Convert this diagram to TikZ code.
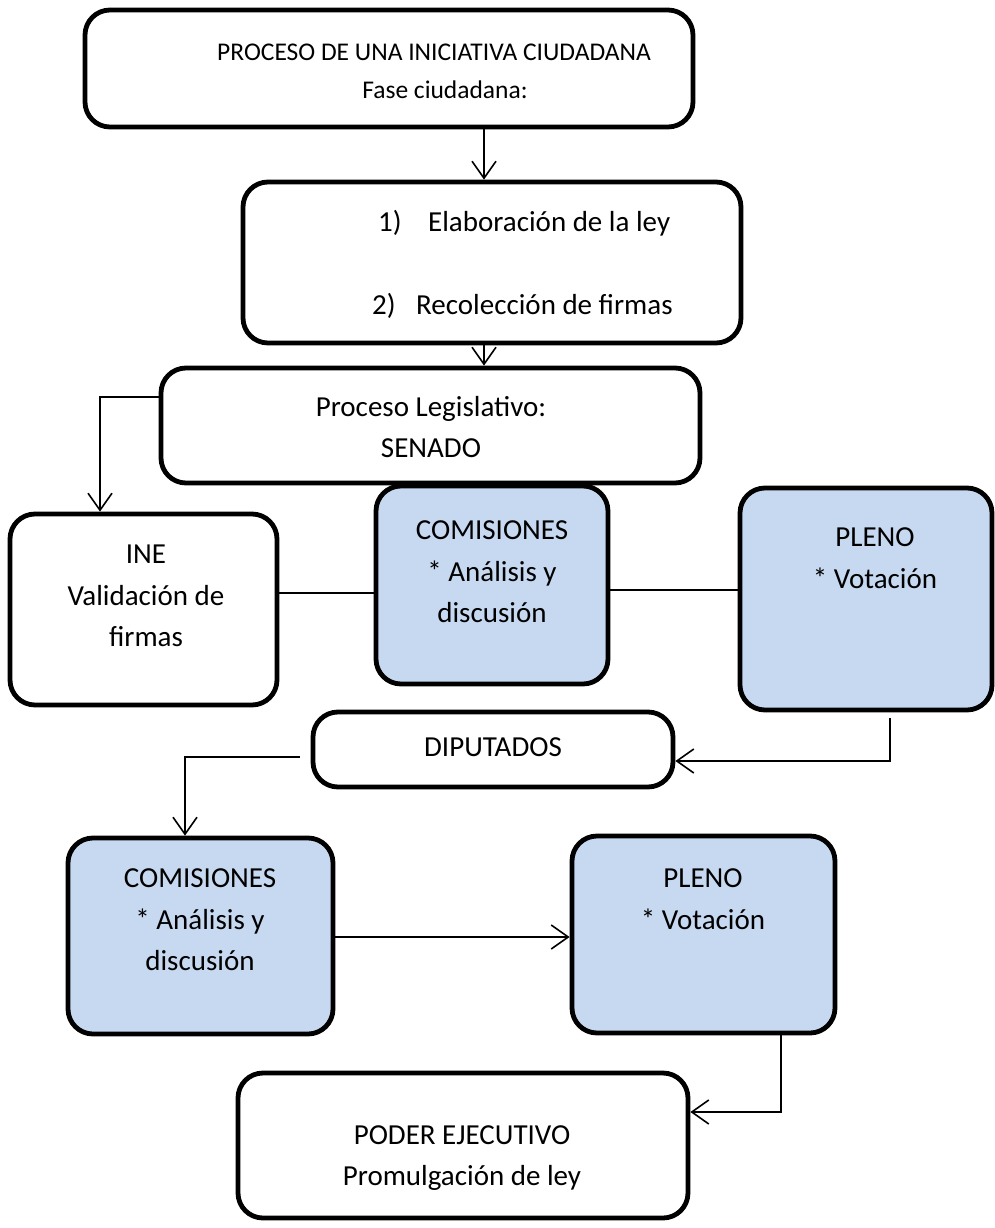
\documentclass[tikz,border=0pt]{standalone}
\usepackage{fontspec}
\setmainfont{Carlito}
\usetikzlibrary{arrows.meta}
\definecolor{boxblue}{HTML}{C6D9F1}
\begin{document}
\begin{tikzpicture}[x=1pt,y=-1pt,
  box/.style={draw=black, line width=4.8pt, rounded corners=25pt, fill=white, inner sep=0pt},
  bluebox/.style={box, fill=boxblue},
  txt/.style={font=\fontsize{29}{41.5}\selectfont, align=center, inner sep=0pt},
  toptxt/.style={font=\fontsize{25.5}{38}\selectfont, align=center, inner sep=0pt},
  conn/.style={line width=1.6pt},
  arr/.style={conn, -{Straight Barb[length=17pt,width=24pt,line width=1.6pt]}}]
\useasboundingbox (0,0) rectangle (994,1228);
% boxes
\node[box, minimum width=608pt, minimum height=117pt] (top) at (389,68.5) {};
\node[box, minimum width=498pt, minimum height=161pt] (fase) at (492,262.5) {};
\node[box, minimum width=539pt, minimum height=115pt] (senado) at (430.5,425.5) {};
\node[box, minimum width=267pt, minimum height=191pt] (ine) at (143.5,609.5) {};
\node[bluebox, minimum width=232pt, minimum height=198pt] (comA) at (492,585) {};
\node[bluebox, minimum width=252pt, minimum height=222pt] (plenoA) at (866,599) {};
\node[box, minimum width=360pt, minimum height=75pt] (dip) at (493,749.5) {};
\node[bluebox, minimum width=265pt, minimum height=196pt] (comB) at (200.5,936) {};
\node[bluebox, minimum width=263pt, minimum height=197pt] (plenoB) at (703.5,934.5) {};
\node[box, minimum width=450pt, minimum height=145pt] (poder) at (463,1145.5) {};
% texts
\node[toptxt] (topL1) at (434,52) {PROCESO DE UNA INICIATIVA CIUDADANA};
\node[toptxt] (topL2) at (445,90) {Fase ciudadana:};
\node[txt, anchor=base west] (n1) at (378,231) {1)};
\node[txt, anchor=base west] (t1) at (428,231) {Elaboración de la ley};
\node[txt, anchor=base west] (n2) at (372,314) {2)};
\node[txt, anchor=base west] (t2) at (416,314) {Recolección de firmas};
\node[txt] (senadoT) at (431,427) {Proceso Legislativo:\\SENADO};
\node[txt] (ineT) at (146,596) {INE\\Validación de\\firmas};
\node[txt] (comAT) at (492,572) {COMISIONES\\* Análisis y\\discusión};
\node[txt] (plenoAT) at (875,558) {PLENO\\* Votación};
\node[txt] (dipT) at (493,747) {DIPUTADOS};
\node[txt] (comBT) at (200,920) {COMISIONES\\* Análisis y\\discusión};
\node[txt] (plenoBT) at (703,899) {PLENO\\* Votación};
\node[txt] (poderT) at (462,1158) {PODER EJECUTIVO\\Promulgación de ley};
% helper coordinates
\coordinate (ax) at (484,0);
\coordinate (k1) at (100,397);
\coordinate (k2) at (0,593);
\coordinate (k3) at (0,590);
\coordinate (k4) at (890,718);
\coordinate (k5) at (0,761);
\coordinate (k6) at (300,757);
\coordinate (k7) at (185,0);
\coordinate (k8) at (0,937);
\coordinate (k9) at (781,0);
\coordinate (k10) at (0,1112);
% connectors
\draw[arr] (top.south -| ax) -- (fase.north -| ax);
\draw[arr] (fase.south -| ax) -- (senado.north -| ax);
\draw[arr] (k1 -| senado.west) -| (ine.north -| k1);
\draw[conn] (ine.east |- k2) -- (comA.west |- k2);
\draw[conn] (comA.east |- k3) -- (plenoA.west |- k3);
\draw[arr] (k4) |- (dip.east |- k5);
\draw[arr] (k6) -| (comB.north -| k7);
\draw[arr] (comB.east |- k8) -- (plenoB.west |- k8);
\draw[arr] (plenoB.south -| k9) |- (poder.east |- k10);
\end{tikzpicture}
\end{document}
